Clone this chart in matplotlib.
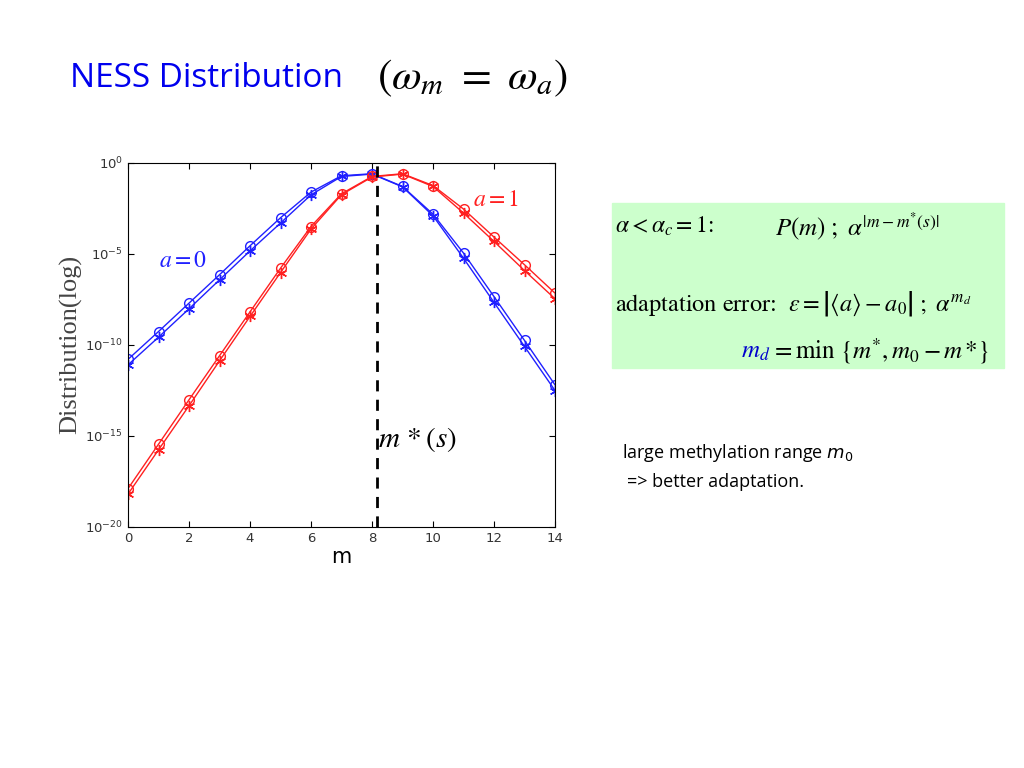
import numpy as np
import matplotlib.pyplot as plt

plt.rcParams['mathtext.fontset'] = 'stix'

m = np.arange(15)
# log10 of distribution
a0_circ = [-10.8, -9.27, -7.71, -6.15, -4.56, -3.02, -1.61, -0.71, -0.60, -1.30, -2.82, -4.96, -7.35, -9.76, -12.2]
a0_star = [-11.1, -9.58, -8.02, -6.43, -4.84, -3.31, -1.76, -0.75, -0.62, -1.32, -2.91, -5.24, -7.67, -10.09, -12.51]
a1_circ = [-17.9, -15.46, -13.02, -10.6, -8.19, -5.79, -3.5, -1.70, -0.75, -0.60, -1.25, -2.54, -4.08, -5.60, -7.16]
a1_star = [-18.2, -15.77, -13.35, -10.88, -8.44, -6.03, -3.64, -1.75, -0.78, -0.62, -1.30, -2.76, -4.32, -5.92, -7.47]
m_star = 8.15

fig = plt.figure(figsize=(10.24, 7.68), dpi=100)
ax = fig.add_axes([0.125, 0.314, 0.417, 0.474])

blue = '#2020ff'
red = '#ff2020'
asterisk = (6, 2, 0)
ax.semilogy(m, 10.0 ** np.array(a0_circ), '-o', color=blue, mfc='none', ms=7, lw=1)
ax.semilogy(m, 10.0 ** np.array(a0_star), '-', marker=asterisk, color=blue, ms=8, lw=1)
ax.semilogy(m, 10.0 ** np.array(a1_circ), '-o', color=red, mfc='none', ms=7, lw=1)
ax.semilogy(m, 10.0 ** np.array(a1_star), '-', marker=asterisk, color=red, ms=8, lw=1)
ax.axvline(m_star, color='black', ls=(0, (4, 3)), lw=2)

ax.set_xlim(0, 14)
ax.set_ylim(1e-20, 1)
ax.set_xticks(range(0, 15, 2))
ax.set_yticks([1e-20, 1e-15, 1e-10, 1e-5, 1])
ax.minorticks_off()
ax.tick_params(direction='in', top=True, right=True, labelsize=9.5, labelcolor='#333333', length=4)
ax.set_xlabel('m', fontsize=15, labelpad=2)
ax.set_ylabel('Distribution(log)', fontsize=19, family='Liberation Serif', color='#444444', labelpad=2)

ax.text(1.0, 1e-5 * 0.2, r'$a=0$', color=blue, fontsize=17)
ax.text(11.3, 10 ** -2.35, r'$a=1$', color=red, fontsize=17)
ax.text(8.2, 10 ** -15.6, r'$m\,*(s)$', color='black', fontsize=21)

# title
fig.text(0.068, 0.898, 'NESS Distribution', color='#0000ee', fontsize=24, family='Open Sans', va='center')
fig.text(0.368, 0.898, r'$(\omega_m\ =\ \omega_a)$', color='black', fontsize=31, va='center')

# green box
box = plt.Rectangle((0.598, 0.521), 0.382, 0.215, transform=fig.transFigure, color='#ccffcc', zorder=0)
fig.patches.append(box)
fig.text(0.601, 0.705, r'$\alpha < \alpha_c = 1$:', fontsize=17, va='center', family='STIXGeneral')
fig.text(0.757, 0.705, r'$P(m)\ ;\ \alpha^{|m-m^{*}(s)|}$', fontsize=18, va='center')
fig.text(0.601, 0.605, r'adaptation error:  $\varepsilon = \left|\langle a\rangle - a_0\right|\ ;\ \alpha^{m_d}$',
         fontsize=17.5, va='center', family='STIXGeneral')
fig.text(0.724, 0.543, r'$m_d$', color='#0000cc', fontsize=18, va='center')
fig.text(0.753, 0.543, r'$= \mathrm{min}\ \left\{m^{*}, m_0 - m\,{*}\right\}$', fontsize=18, va='center')

fig.text(0.607, 0.41, r'large methylation range $m_0$', fontsize=13, family='Open Sans', va='center',
         math_fontfamily='dejavusans')
fig.text(0.612, 0.372, '=> better adaptation.', fontsize=13, family='Open Sans', va='center')

fig.savefig('out.png', dpi=100)
